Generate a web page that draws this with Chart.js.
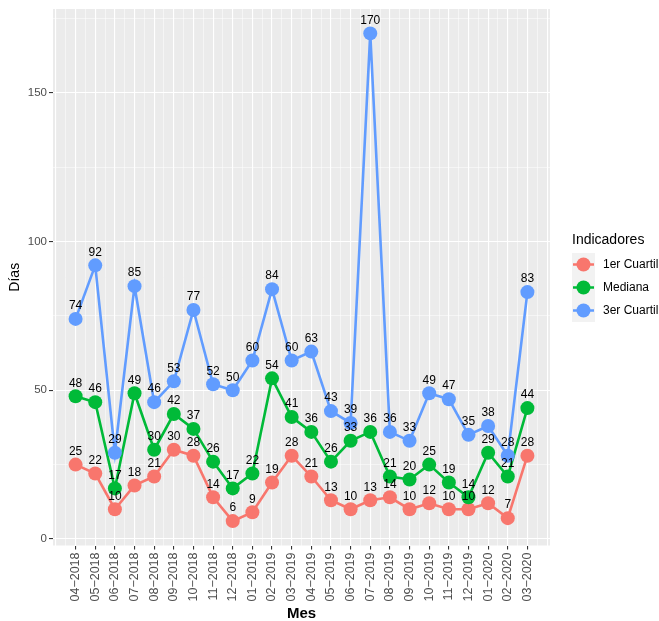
<!DOCTYPE html>
<html>
<head>
<meta charset="utf-8">
<script src="https://cdn.jsdelivr.net/npm/chart.js@4.4.1/dist/chart.umd.min.js"></script>
<style>
  html, body { margin:0; padding:0; background:#fff; }
  #wrap { width:659px; height:621px; position:relative; }
</style>
</head>
<body>
<div id="wrap"><canvas id="c" width="659" height="621"></canvas></div>
<script>
// data
const meses = ['04−2018','05−2018','06−2018','07−2018','08−2018','09−2018','10−2018','11−2018','12−2018',
  '01−2019','02−2019','03−2019','04−2019','05−2019','06−2019','07−2019','08−2019','09−2019','10−2019',
  '11−2019','12−2019','01−2020','02−2020','03−2020'];
const cuartil1 = [25,22,10,18,21,30,28,14,6,9,19,28,21,13,10,13,14,10,12,10,10,12,7,28];
const mediana  = [48,46,17,49,30,42,37,26,17,22,54,41,36,26,33,36,21,20,25,19,14,29,21,44];
const cuartil3 = [74,92,29,85,46,53,77,52,50,60,84,60,63,43,39,170,36,33,49,47,35,38,28,83];
const seriesNames = ['1er Cuartil','Mediana','3er Cuartil'];
const seriesColors = ['#F8766D','#00BA38','#619CFF'];
const yTicks = [0,25,50,75,100,125,150,175];

const FONT = "'Liberation Sans', Arial, sans-serif";
const toPts = (arr) => arr.map((v,i) => ({x:i, y:v}));

const xTicks = [];
for (let v = -1; v <= 24; v += 0.5) xTicks.push(v);

const panelBg = {
  id:'panelBg',
  beforeDraw(chart){
    const a = chart.chartArea, ctx = chart.ctx;
    ctx.save(); ctx.fillStyle = '#EBEBEB';
    ctx.fillRect(a.left, a.top, a.right-a.left, a.bottom-a.top);
    ctx.restore();
  }
};

const valueLabels = {
  id:'valueLabels',
  afterDatasetsDraw(chart){
    const ctx = chart.ctx;
    ctx.save();
    ctx.font = '12px ' + FONT;
    ctx.fillStyle = '#000';
    ctx.textAlign = 'center';
    ctx.textBaseline = 'middle';
    chart.data.datasets.forEach((ds, di) => {
      chart.getDatasetMeta(di).data.forEach((pt, i) => {
        ctx.fillText(String(ds.data[i].y), pt.x, pt.y - 13);
      });
    });
    ctx.restore();
  }
};

const legendRight = {
  id:'legendRight',
  afterDraw(chart){
    const ctx = chart.ctx;
    const x0 = 572, kw = 23, kh = 23, top = 253;
    ctx.save();
    ctx.font = '14px ' + FONT;
    ctx.fillStyle = '#000';
    ctx.textBaseline = 'middle';
    ctx.textAlign = 'left';
    ctx.fillText('Indicadores', 572, 240);
    chart.data.datasets.forEach((ds, i) => {
      const y = top + i*kh;
      ctx.fillStyle = '#F2F2F2';
      ctx.fillRect(x0, y, kw, kh);
      const cy = y + kh/2;
      ctx.strokeStyle = ds.borderColor; ctx.lineWidth = 2.5;
      ctx.beginPath(); ctx.moveTo(x0+1, cy); ctx.lineTo(x0+kw-1, cy); ctx.stroke();
      ctx.fillStyle = ds.backgroundColor;
      ctx.beginPath(); ctx.arc(x0+kw/2, cy, 7, 0, Math.PI*2); ctx.fill();
      ctx.fillStyle = '#000';
      ctx.font = '12px ' + FONT;
      ctx.fillText(ds.label, 603, cy);
    });
    ctx.restore();
  }
};

const datasets = [cuartil1, mediana, cuartil3].map((arr, i) => ({
  label: seriesNames[i],
  data: toPts(arr),
  borderColor: seriesColors[i],
  backgroundColor: seriesColors[i],
  borderWidth: 2.6,
  pointRadius: 7,
  pointHoverRadius: 7,
  pointBorderWidth: 0,
  tension: 0,
  order: 3 - i
}));

new Chart(document.getElementById('c'), {
  type:'line',
  data:{ datasets },
  plugins:[panelBg, valueLabels, legendRight],
  options:{
    responsive:false,
    animation:false,
    events:[],
    layout:{ padding:{ top:9, right:109, left:0, bottom:0 } },
    plugins:{ legend:{display:false}, tooltip:{enabled:false}, title:{display:false} },
    scales:{
      x:{
        type:'linear', min:-1.15, max:24.15,
        afterBuildTicks(s){ s.ticks = xTicks.map(v => ({value:v})); },
        afterFit(s){ s.height = 75.5; },
        border:{ display:false },
        grid:{
          color:'#FFFFFF',
          lineWidth: (c) => Number.isInteger(c.tick && c.tick.value) ? 1.1 : 0.5,
          drawTicks:true, tickLength:4,
          tickColor: (c) => { const v = c.tick && c.tick.value; return (Number.isInteger(v) && v >= 0 && v < meses.length) ? '#333333' : 'rgba(0,0,0,0)'; },
          tickWidth:1.1
        },
        ticks:{
          autoSkip:false, minRotation:90, maxRotation:90, padding:3,
          color:'#4D4D4D', font:{ family:FONT, size:12.5 },
          callback: (v) => (Number.isInteger(v) && v >= 0 && v < meses.length) ? meses[v] : ''
        },
        title:{ display:true, text:'Mes', color:'#000', font:{ family:FONT, size:15, weight:'bold', lineHeight:1 }, padding:{top:0,bottom:0} }
      },
      y:{
        type:'linear', min:-2.2, max:178.2,
        afterBuildTicks(s){ s.ticks = yTicks.map(v => ({value:v})); },
        afterFit(s){ s.width = 53; },
        border:{ display:false },
        grid:{
          color:'#FFFFFF',
          lineWidth: (c) => (c.tick && c.tick.value % 50 === 0) ? 1.1 : 0.5,
          drawTicks:true, tickLength:4,
          tickColor: (c) => (c.tick && c.tick.value % 50 === 0) ? '#333333' : 'rgba(0,0,0,0)',
          tickWidth:1.1
        },
        ticks:{
          padding:2, color:'#4D4D4D', font:{ family:FONT, size:11.5 },
          callback: (v) => v % 50 === 0 ? String(v) : ''
        },
        title:{ display:true, text:'Días', color:'#000', font:{ family:FONT, size:14 }, padding:{top:7,bottom:0} }
      }
    }
  }
});
</script>
</body>
</html>
